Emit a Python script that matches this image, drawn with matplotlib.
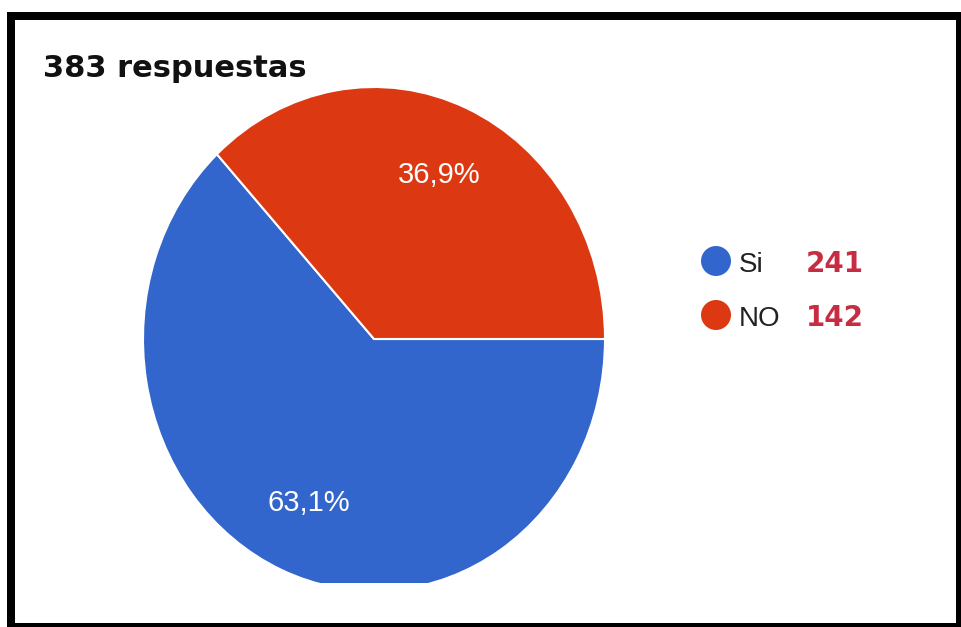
import matplotlib
matplotlib.use("Agg")
import matplotlib.pyplot as plt
from matplotlib.patches import Circle, Rectangle

# Survey answers
categories = ["Si", "NO"]
percentages = [63.1, 36.9]
counts = [241, 142]
total_label = "383 respuestas"

colors = ["#3366CC", "#DC3912"]
count_color = "#C62D42"

W, H = 961, 627
fig = plt.figure(figsize=(W / 100, H / 100), dpi=100)
fig.patch.set_facecolor("white")

# Overlay axes in pixel units for frame, title and legend
bg = fig.add_axes([0, 0, 1, 1])
bg.set_xlim(0, W)
bg.set_ylim(H, 0)
bg.axis("off")

# Thick black frame
for (x0, y0, w, h) in [(7, 12, 8, H - 12), (7, 12, W - 7, 8),
                       (956, 12, 5, H - 12), (7, 623, W - 7, 4)]:
    bg.add_patch(Rectangle((x0, y0), w, h, color="black", lw=0, zorder=5))

bg.text(43, 77, total_label, fontsize=22, fontweight="bold",
        family="DejaVu Sans", color="#111111", va="baseline", ha="left")

# Pie axes: slightly taller than wide, cut off at the bottom
cx, cy, a, b = 374, 339, 231, 252
clip_y = 583
ax = fig.add_axes([(cx - a) / W, (H - clip_y) / H, 2 * a / W, (clip_y - (cy - b)) / H])
wedges, texts, autotexts = ax.pie(
    percentages, colors=colors, startangle=0, counterclock=False,
    autopct=lambda p: f"{p:.1f}%".replace(".", ","), pctdistance=0.71,
    wedgeprops=dict(edgecolor="white", linewidth=1.5),
    textprops=dict(color="white", fontsize=21, family="Liberation Sans"),
)
for w in wedges:
    w.set_clip_on(True)
    w.set_clip_path(ax.patch)
ax.set_aspect("auto")
ax.set_xlim(-1, 1)
ax.set_ylim(-(clip_y - cy) / b, 1)
ax.axis("off")

# Legend with counts
rows_y = [261, 315]
for i, (cat, n) in enumerate(zip(categories, counts)):
    y = rows_y[i]
    bg.add_patch(Circle((716, y), 15, color=colors[i], lw=0, zorder=3))
    bg.text(739, y + 11, cat, fontsize=20, family="Liberation Sans",
            color="#222222", va="baseline", ha="left")
    bg.text(864, y + 11, str(n), fontsize=20, fontweight="bold",
            family="DejaVu Sans", color=count_color, va="baseline", ha="right")

fig.savefig("out.png", dpi=100, facecolor="white")
